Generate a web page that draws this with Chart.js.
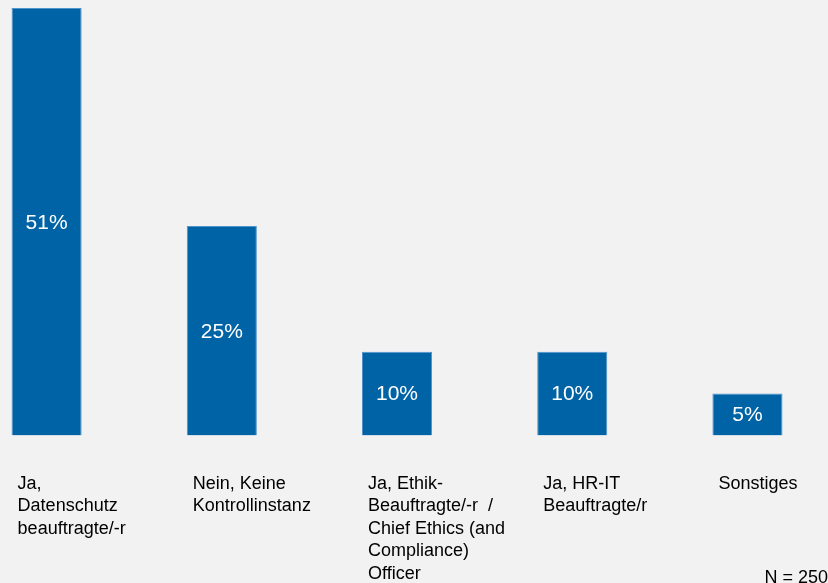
<!DOCTYPE html>
<html>
<head>
<meta charset="utf-8">
<script src="https://cdn.jsdelivr.net/npm/chart.js@4/dist/chart.umd.min.js"></script>
<style>
  html, body { margin: 0; padding: 0; background: #f2f2f2; overflow: hidden; width: 828px; height: 583px; }
  #wrap { position: absolute; left: -41px; top: 0; width: 905px; height: 583px; }
</style>
</head>
<body>
<div id="wrap"><canvas id="c"></canvas></div>
<script>
const categories = [
  ["Ja,", "Datenschutz", "beauftragte/-r"],
  ["Nein, Keine", "Kontrollinstanz"],
  ["Ja, Ethik-", "Beauftragte/-r  /", "Chief Ethics (and", "Compliance)", "Officer"],
  ["Ja, HR-IT", "Beauftragte/r"],
  ["Sonstiges"]
];
const values = [51, 25, 10, 10, 5];
const valueLabels = ["51%", "25%", "10%", "10%", "5%"];
const note = "N = 250";

const FONT = "Arial, 'Liberation Sans', sans-serif";

const inBarLabels = {
  id: 'inBarLabels',
  afterDatasetsDraw(chart) {
    const ctx = chart.ctx;
    const meta = chart.getDatasetMeta(0);
    ctx.save();
    ctx.fillStyle = '#ffffff';
    ctx.font = '21px ' + FONT;
    ctx.textAlign = 'center';
    ctx.textBaseline = 'middle';
    meta.data.forEach((bar, i) => {
      const p = bar.getProps(['x', 'y', 'base'], true);
      ctx.fillText(valueLabels[i], p.x, (p.y + p.base) / 2 + 1);
    });
    ctx.restore();
  },
  afterDraw(chart) {
    const ctx = chart.ctx;
    ctx.save();
    ctx.fillStyle = '#000000';
    ctx.font = '18px ' + FONT;
    ctx.textAlign = 'right';
    ctx.textBaseline = 'alphabetic';
    ctx.fillText(note, 41 + 828, chart.height);
    ctx.restore();
  }
};

new Chart(document.getElementById('c'), {
  type: 'bar',
  data: {
    labels: categories,
    datasets: [{
      data: values,
      backgroundColor: '#0063a6',
      borderColor: '#4f93c9',
      borderWidth: 1,
      barPercentage: 0.4,
      categoryPercentage: 1.0
    }]
  },
  options: {
    responsive: true,
    maintainAspectRatio: false,
    animation: false,
    layout: { padding: { top: 8, left: 0, right: 5, bottom: 0 } },
    plugins: {
      legend: { display: false },
      tooltip: { enabled: false },
      title: { display: false }
    },
    scales: {
      x: {
        grid: { display: false, drawTicks: false },
        border: { display: false },
        ticks: {
          color: '#000000',
          font: { family: FONT, size: 18, lineHeight: 1.25 },
          align: 'start',
          labelOffset: -29,
          padding: 37,
          maxRotation: 0,
          minRotation: 0,
          autoSkip: false
        },
        afterFit(scale) { scale.height = 583 - 8 - 427.5; }
      },
      y: {
        display: false,
        min: 0,
        max: 51
      }
    }
  },
  plugins: [inBarLabels]
});
</script>
</body>
</html>
